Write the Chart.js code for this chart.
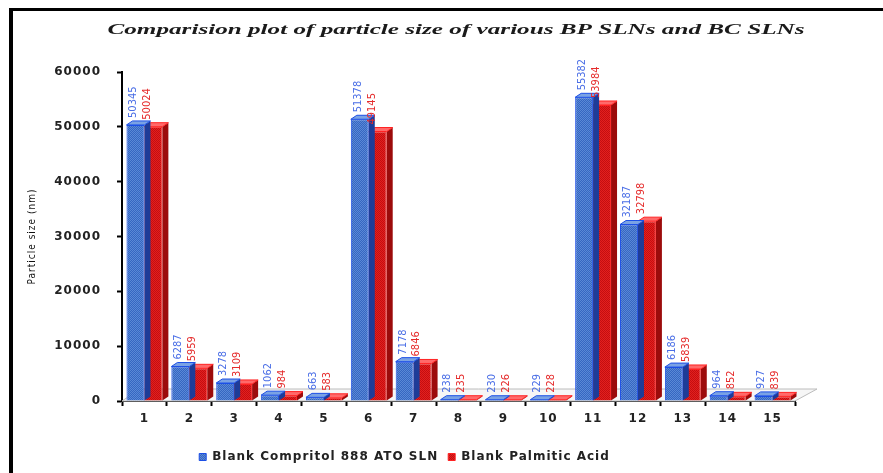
<!DOCTYPE html>
<html>
<head>
<meta charset="utf-8">
<title>Particle size of BP SLNs and BC SLNs</title>
<script src="https://cdn.jsdelivr.net/npm/chart.js@4.4.1/dist/chart.umd.min.js"></script>
<style>
  html, body { margin: 0; padding: 0; background: #ffffff; }
  #wrap { width: 883px; height: 473px; position: relative; }
</style>
</head>
<body>
<div id="wrap"><canvas id="sizeChart" width="883" height="473"></canvas></div>
<script>
// Formulation numbers along the x axis
const categories = ['1', '2', '3', '4', '5', '6', '7', '8', '9', '10', '11', '12', '13', '14', '15'];

// Particle size (nm) per formulation
const compritolSizes = [50345, 6287, 3278, 1062, 663, 51378, 7178, 238, 230, 229, 55382, 32187, 6186, 964, 927];
const palmiticSizes  = [50024, 5959, 3109, 984, 583, 49145, 6846, 235, 226, 228, 53984, 32798, 5839, 852, 839];

const seriesNames = ['Blank Compritol 888 ATO SLN', 'Blank Palmitic Acid'];
const yTickValues = [0, 10000, 20000, 30000, 40000, 50000, 60000];

const chartTitle = 'Comparision plot of particle size of various BP SLNs and BC SLNs';
const yAxisTitle = 'Particle size (nm)';

const canvas = document.getElementById('sizeChart');
const ctx = canvas.getContext('2d');

// small dithered fill so the columns get the grainy texture
function checker(a, b) {
  const p = document.createElement('canvas');
  p.width = 2; p.height = 2;
  const g = p.getContext('2d');
  g.fillStyle = a; g.fillRect(0, 0, 2, 2);
  g.fillStyle = b; g.fillRect(0, 0, 1, 1); g.fillRect(1, 1, 1, 1);
  return ctx.createPattern(p, 'repeat');
}

const style = [
  { front: checker('#3566c2', '#5a88d6'), border: '#1c4fe6', side: '#1e3c98', top: '#7aa2e4', label: '#4a6ee6' },
  { front: checker('#e3201f', '#c40e10'), border: '#ff2222', side: '#9c0b0b', top: '#ff6a6a', label: '#e52b2b' }
];

const DEPTH_X = 6, DEPTH_Y = 4;

// white page with the black frame along the left and top
const framePlugin = {
  id: 'frame',
  beforeLayout(chart) { chart.ctx.letterSpacing = '1px'; },
  beforeDraw(chart) {
    const c = chart.ctx;
    c.save();
    c.letterSpacing = '0px';
    c.fillStyle = '#ffffff';
    c.fillRect(0, 0, chart.width, chart.height);
    c.fillStyle = '#000000';
    c.fillRect(9, 8, 4, chart.height - 8);
    c.fillRect(9, 8, chart.width - 9, 3);
    c.restore();
    c.letterSpacing = '1px';
  },
  beforeDatasetsDraw(chart) {
    const c = chart.ctx;
    c.letterSpacing = '0px';
    // floor of the 3-D plot
    const a = chart.chartArea;
    c.save();
    c.beginPath();
    c.moveTo(a.left, a.bottom);
    c.lineTo(a.left + 18, a.bottom - 12);
    c.lineTo(a.right + 22, a.bottom - 12);
    c.lineTo(a.right, a.bottom);
    c.closePath();
    c.fillStyle = '#f6f6f6';
    c.fill();
    c.strokeStyle = '#bcbcbc';
    c.lineWidth = 1;
    c.stroke();
    c.restore();
  }
};

// side and top faces of each column
const depthPlugin = {
  id: 'depth',
  afterDatasetDraw(chart, args) {
    const c = chart.ctx;
    const s = style[args.index];
    c.save();
    args.meta.data.forEach(el => {
      const p = el.getProps(['x', 'y', 'base', 'width'], true);
      const l = p.x - p.width / 2, r = p.x + p.width / 2;
      c.beginPath();
      c.moveTo(r, p.y);
      c.lineTo(r + DEPTH_X, p.y - DEPTH_Y);
      c.lineTo(r + DEPTH_X, p.base - DEPTH_Y);
      c.lineTo(r, p.base);
      c.closePath();
      c.fillStyle = s.side;
      c.fill();
      c.beginPath();
      c.moveTo(l, p.y);
      c.lineTo(l + DEPTH_X, p.y - DEPTH_Y);
      c.lineTo(r + DEPTH_X, p.y - DEPTH_Y);
      c.lineTo(r, p.y);
      c.closePath();
      c.fillStyle = s.top;
      c.fill();
      c.strokeStyle = s.border;
      c.lineWidth = 1;
      c.stroke();
    });
    c.restore();
  }
};

// vertical value labels above the columns
const valueLabelPlugin = {
  id: 'valueLabels',
  afterDatasetsDraw(chart) {
    const c = chart.ctx;
    c.save();
    c.letterSpacing = '0px';
    c.font = '11px "Liberation Sans Narrow", "DejaVu Sans Condensed", sans-serif';
    c.textAlign = 'left';
    c.textBaseline = 'middle';
    chart.data.datasets.forEach((ds, i) => {
      const meta = chart.getDatasetMeta(i);
      const shift = i === 0 ? -2 : -6;
      c.fillStyle = style[i].label;
      meta.data.forEach((el, j) => {
        const p = el.getProps(['x', 'y'], true);
        c.save();
        c.translate(p.x + shift, p.y - DEPTH_Y - 3);
        c.rotate(-Math.PI / 2);
        c.fillText(String(ds.data[j]), 0, 0);
        c.restore();
      });
    });
    c.restore();
  }
};

// bold italic heading across the top
const headingPlugin = {
  id: 'heading',
  afterDraw(chart) {
    const c = chart.ctx;
    c.save();
    c.letterSpacing = '0px';
    c.font = 'italic bold 14px "Liberation Serif", "DejaVu Serif", serif';
    const w = c.measureText(chartTitle).width;
    c.translate(456, 30);
    c.scale(697 / w, 1);
    c.textAlign = 'center';
    c.textBaseline = 'middle';
    c.fillStyle = '#1a1a1a';
    c.fillText(chartTitle, 0, 0);
    c.restore();
  }
};

const boldFont = { family: '"DejaVu Sans", sans-serif', weight: 'bold', size: 12 };

new Chart(canvas, {
  type: 'bar',
  data: {
    labels: categories,
    datasets: [
      {
        label: seriesNames[0],
        data: compritolSizes,
        backgroundColor: style[0].front,
        borderColor: style[0].border,
        borderWidth: 1,
        categoryPercentage: 0.8,
        barPercentage: 1.0
      },
      {
        label: seriesNames[1],
        data: palmiticSizes,
        backgroundColor: style[1].front,
        borderColor: style[1].border,
        borderWidth: 1,
        categoryPercentage: 0.8,
        barPercentage: 1.0
      }
    ]
  },
  options: {
    responsive: false,
    animation: false,
    devicePixelRatio: 1,
    layout: { padding: { left: 14, right: 88, top: 72, bottom: 0 } },
    plugins: {
      title: { display: false },
      tooltip: { enabled: false },
      legend: {
        position: 'bottom',
        labels: {
          boxWidth: 7,
          boxHeight: 7,
          padding: 10,
          color: '#222222',
          font: boldFont
        }
      }
    },
    scales: {
      x: {
        ticks: { color: '#222222', font: boldFont, padding: 6 },
        grid: {
          offset: true,
          drawOnChartArea: false,
          drawTicks: true,
          tickLength: 5,
          tickColor: '#000000',
          tickWidth: 2
        },
        border: { display: true, color: '#000000', width: 2 },
        afterFit(scale) { scale.height = 40; }
      },
      y: {
        min: 0,
        max: 60000,
        afterBuildTicks(scale) { scale.ticks = yTickValues.map(v => ({ value: v })); },
        ticks: {
          color: '#222222',
          font: boldFont,
          padding: 16,
          callback: v => String(v)
        },
        grid: {
          drawOnChartArea: false,
          drawTicks: true,
          tickLength: 5,
          tickColor: '#000000',
          tickWidth: 2
        },
        border: { display: true, color: '#000000', width: 2 },
        title: {
          display: true,
          text: yAxisTitle,
          color: '#111111',
          font: { family: '"Liberation Sans Narrow", "DejaVu Sans Condensed", sans-serif', size: 10 },
          padding: { top: 12, bottom: 0 }
        },
        afterFit(scale) { scale.width = 108; }
      }
    }
  },
  plugins: [framePlugin, depthPlugin, valueLabelPlugin, headingPlugin]
});
</script>
</body>
</html>
